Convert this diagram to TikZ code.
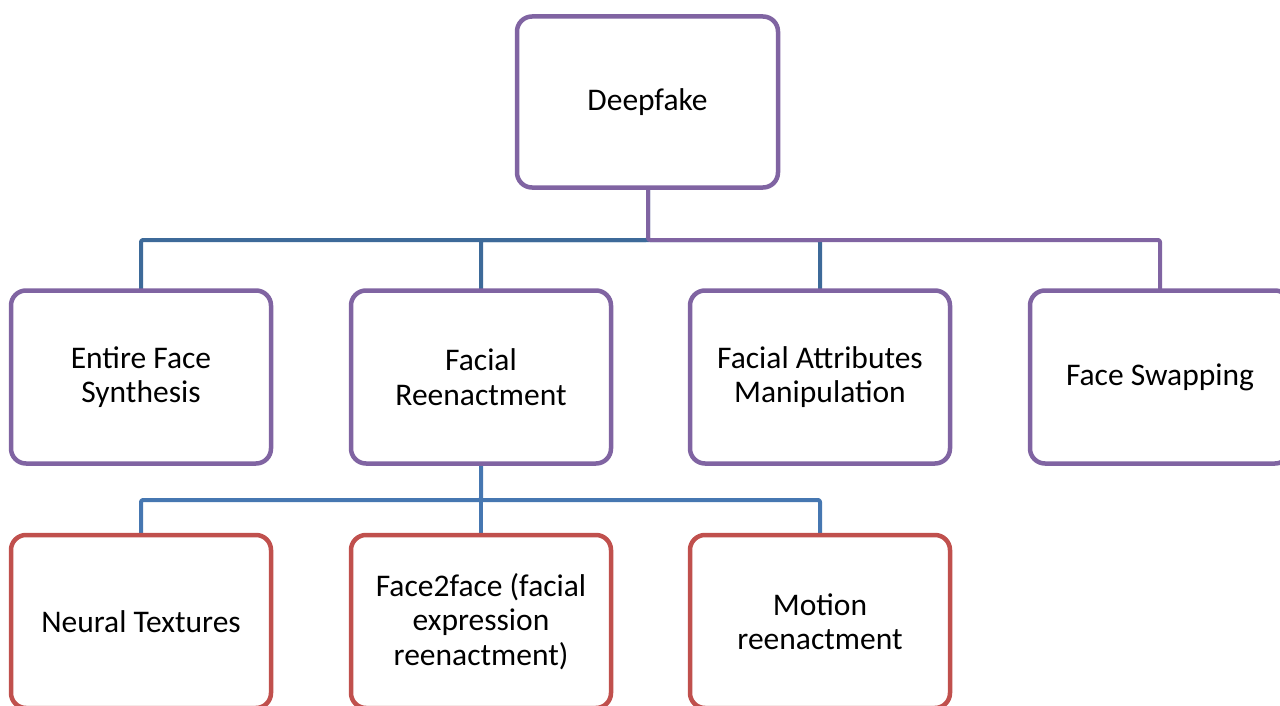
\documentclass[tikz,border=0pt]{standalone}
\usepackage{fontspec}
\setmainfont{Carlito}
\definecolor{boxpurple}{HTML}{8064A2}
\definecolor{boxred}{HTML}{C0504D}
\definecolor{lineblueA}{HTML}{3D6A99}
\definecolor{lineblueB}{HTML}{4677B1}
\tikzset{
  card/.style={draw=#1, line width=4.5pt, rounded corners=15pt, fill=white,
    minimum width=260pt, minimum height=173pt, align=center, inner sep=0pt,
    font=\fontsize{31.5}{34.5}\selectfont},
  link/.style={draw=#1, line width=4pt, rounded corners=2pt, line join=round}
}
\begin{document}
\begin{tikzpicture}[x=1pt,y=-1pt]
\useasboundingbox (0,0) rectangle (1280,706);
% junction coordinates
\coordinate (j1) at (648,240);
\coordinate (j2) at (481,500);
% connectors (drawn first, boxes on top)
\draw[link=lineblueA] (648,188) -- (j1) -| (141,290);
\draw[link=lineblueA] (j1) -| (481,290);
\draw[link=lineblueA] (j1) -| (820,290);
\draw[link=boxpurple] (648,188) -- (j1) -| (1160,290);
\draw[link=lineblueB] (481,465) -- (j2) -| (141,535);
\draw[link=lineblueB] (j2) -| (481,535);
\draw[link=lineblueB] (j2) -| (820,535);
% boxes
\node[card=boxpurple, minimum width=261pt, minimum height=171pt] (deep) at (647.5,102) {Deepfake};
\node[card=boxpurple] (efs) at (141,377) {Entire Face\\Synthesis};
\node[card=boxpurple] (fr) at (481,377) {Facial\\Reenactment};
\node[card=boxpurple] (fam) at (820,377) {Facial Attributes\\Manipulation};
\node[card=boxpurple] (fs) at (1160,377) {Face Swapping};
\node[card=boxred] (nt) at (141,621.5) {Neural Textures};
\node[card=boxred] (f2f) at (481,621.5) {Face2face (facial\\expression\\reenactment)};
\node[card=boxred] (mr) at (820,621.5) {Motion\\reenactment};
\end{tikzpicture}
\end{document}
